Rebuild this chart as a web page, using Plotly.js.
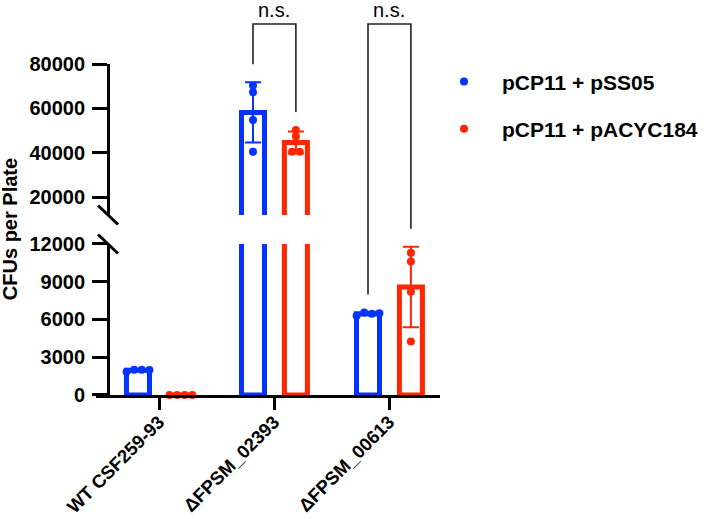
<!DOCTYPE html>
<html><head><meta charset="utf-8">
<script src="https://cdn.plot.ly/plotly-3.0.1.min.js"></script>
<style>html,body{margin:0;padding:0;background:#fff}#chart{width:706px;height:519px}</style>
</head><body><div id="chart"></div>
<script>
// ---------- data ----------
const categories = ["WT CSF259-93", "ΔFPSM_02393", "ΔFPSM_00613"];
const seriesNames = ["pCP11 + pSS05", "pCP11 + pACYC184"];
const bluePoints = [[1850, 2000, 2000, 1990], [70300, 67300, 54800, 40500], [6300, 6550, 6450, 6500]];
const redPoints = [[0, 0, 0, 0], [50300, 47300, 40500, 40500], [11300, 10600, 8200, 4250]];
const blueMeans = [1960, 58200, 6450];
const blueSD = [70, 13600, 110];
const redMeans = [0, 44650, 8590];
const redSD = [0, 4930, 3200];
const bottomTicks = [0, 3000, 6000, 9000, 12000];
const topTicks = [20000, 40000, 60000, 80000];
const comparisons = [{cat: 1, label: "n.s."}, {cat: 2, label: "n.s."}];

// ---------- layout constants ----------
const W = 706, H = 519;
const M = {l: 96, r: 266, t: 64, b: 124};
const plotW = W - M.l - M.r, plotH = H - M.t - M.b;
const xRange = [-0.548, 2.443];
const bottomRange = [0, 12000], topRange = [12000, 80000];
const bottomDomain = [0, 0.4562], topDomain = [0.5438, 1];
const yAxisPos = 0.035;
const BLUE = '#0433FF', RED = '#FF2600';
const FONT = 'Liberation Sans, Arial, Helvetica, sans-serif';
const groupOff = [-0.183, 0.19];
const barW = 0.2;

const xToPaper = x => (x - xRange[0]) / (xRange[1] - xRange[0]);
const valToPaper = v => v <= bottomRange[1]
  ? bottomDomain[0] + (v - bottomRange[0]) / (bottomRange[1] - bottomRange[0]) * (bottomDomain[1] - bottomDomain[0])
  : topDomain[0] + (v - topRange[0]) / (topRange[1] - topRange[0]) * (topDomain[1] - topDomain[0]);
const pxPerX = plotW / (xRange[1] - xRange[0]);

function jitter(points, center) {
  // spread overlapping points horizontally (pixel based)
  const idx = points.map((v, i) => i).sort((a, b) => points[a] - points[b]);
  const xs = new Array(points.length).fill(center);
  let clusters = [], cur = [idx[0]];
  for (let k = 1; k < idx.length; k++) {
    const d = Math.abs(valToPaper(points[idx[k]]) - valToPaper(points[idx[k - 1]])) * plotH;
    if (d < 5.5) cur.push(idx[k]); else { clusters.push(cur); cur = [idx[k]]; }
  }
  clusters.push(cur);
  clusters.forEach(c => {
    c.sort((a, b) => a - b);
    c.forEach((pi, k) => { xs[pi] = center + (k - (c.length - 1) / 2) * 7.6 / pxPerX; });
  });
  return xs;
}

const series = [
  {name: seriesNames[0], color: BLUE, pts: bluePoints, means: blueMeans, sd: blueSD, off: groupOff[0], g: 'b'},
  {name: seriesNames[1], color: RED, pts: redPoints, means: redMeans, sd: redSD, off: groupOff[1], g: 'r'}
];
const catIdx = categories.map((c, i) => i);
const segRange = {y: bottomRange, y2: topRange};
const traces = [];
['y', 'y2'].forEach(ya => {
  series.forEach(s => {
    // the upper segment only carries the bars that reach into it
    const keep = catIdx.filter(i => ya === 'y' || s.means[i] > topRange[0]);
    traces.push({
      type: 'bar', x: keep, y: keep.map(i => s.means[i]), yaxis: ya, xaxis: 'x',
      width: barW, offset: s.off - barW / 2,
      marker: {color: 'rgba(255,255,255,0)', line: {color: s.color, width: 5}},
      error_y: {type: 'data', array: keep.map(i => s.sd[i]), visible: true, color: s.color, thickness: 2, width: 8},
      showlegend: false, hoverinfo: 'skip', legendgroup: s.g
    });
  });
});
['y', 'y2'].forEach(ya => {
  series.forEach(s => {
    const xs = [], ys = [];
    const r = segRange[ya];
    s.pts.forEach((p, ci) => {
      const jx = jitter(p, ci + s.off);
      // each segment only shows the replicate points that fall inside its range
      p.forEach((v, k) => { if (v >= r[0] && v <= r[1]) { xs.push(jx[k]); ys.push(v); } });
    });
    traces.push({
      type: 'scatter', mode: 'markers', x: xs, y: ys, yaxis: ya, xaxis: 'x',
      name: s.name, legendgroup: s.g, showlegend: ya === 'y',
      cliponaxis: false,
      marker: {color: s.color, size: 8}
    });
  });
});

const tickFont = {family: FONT, size: 20, color: '#000', weight: 'bold'};
const yCommon = {
  anchor: 'free', position: yAxisPos, showline: true, linecolor: '#000', linewidth: 3,
  ticks: 'outside', ticklen: 15, tickwidth: 3, tickcolor: '#000',
  showgrid: false, zeroline: false, tickfont: tickFont, fixedrange: true, ticklabelstandoff: 3
};

const shapes = [], annotations = [];
// axis break marks
const ax0 = yAxisPos - 10 / plotW, ax1 = yAxisPos + 10 / plotW;
[topDomain[0], bottomDomain[1]].forEach(d => {
  shapes.push({type: 'line', xref: 'paper', yref: 'paper', x0: ax0, x1: ax1,
    y0: d + 9.5 / plotH, y1: d - 9.5 / plotH, line: {color: '#000', width: 3}});
});
// significance brackets
const bracketTop = 1 + 40 / plotH;
comparisons.forEach(c => {
  const i = c.cat;
  const lTop = Math.max(blueMeans[i] + blueSD[i], ...bluePoints[i]);
  const rTop = Math.max(redMeans[i] + redSD[i], ...redPoints[i]);
  const xl = xToPaper(i + groupOff[0]), xr = xToPaper(i + groupOff[1]);
  const yl = valToPaper(lTop) + 18 / plotH, yr = valToPaper(rTop) + 18 / plotH;
  shapes.push({type: 'path', xref: 'paper', yref: 'paper',
    path: `M ${xl} ${yl} L ${xl} ${bracketTop} L ${xr} ${bracketTop} L ${xr} ${yr}`,
    line: {color: '#222', width: 1.6}});
  annotations.push({xref: 'paper', yref: 'paper', x: (xl + xr) / 2, y: bracketTop, yanchor: 'bottom',
    xanchor: 'center', yshift: 1, showarrow: false, text: c.label,
    font: {family: FONT, size: 20, color: '#000'}});
});
annotations.push({xref: 'paper', yref: 'paper', x: -0.251, y: 0.5, xanchor: 'center', yanchor: 'middle',
  textangle: -90, showarrow: false, text: 'CFUs per Plate', font: tickFont});

const layout = {
  width: W, height: H, margin: Object.assign({autoexpand: false}, M), paper_bgcolor: '#fff', plot_bgcolor: 'rgba(0,0,0,0)',
  font: {family: FONT, color: '#000'},
  barmode: 'overlay',
  xaxis: {domain: [0, 1], range: xRange, anchor: 'y', tickmode: 'array', tickvals: catIdx, ticktext: categories,
    tickangle: -45, showline: true, linecolor: '#000', linewidth: 3, ticks: 'outside', ticklen: 12,
    tickwidth: 3, tickcolor: '#000', showgrid: false, zeroline: false, fixedrange: true,
    tickfont: Object.assign({}, tickFont, {size: 18.5}), ticklabelstandoff: -6},
  yaxis: Object.assign({}, yCommon, {domain: bottomDomain, range: bottomRange, tickmode: 'array',
    tickvals: bottomTicks, ticktext: bottomTicks.map(String)}),
  yaxis2: Object.assign({}, yCommon, {domain: topDomain, range: topRange, tickmode: 'array',
    tickvals: topTicks, ticktext: topTicks.map(String)}),
  showlegend: true,
  legend: {xref: 'container', yref: 'container', x: 0.6034, y: 0.882, xanchor: 'left', yanchor: 'top',
    tracegroupgap: 17, itemwidth: 66,
    font: {family: FONT, size: 21, color: '#000', weight: 'bold'}, bgcolor: 'rgba(0,0,0,0)'},
  shapes: shapes, annotations: annotations
};
Plotly.newPlot('chart', traces, layout, {displayModeBar: false, staticPlot: true});
</script>
</body></html>
